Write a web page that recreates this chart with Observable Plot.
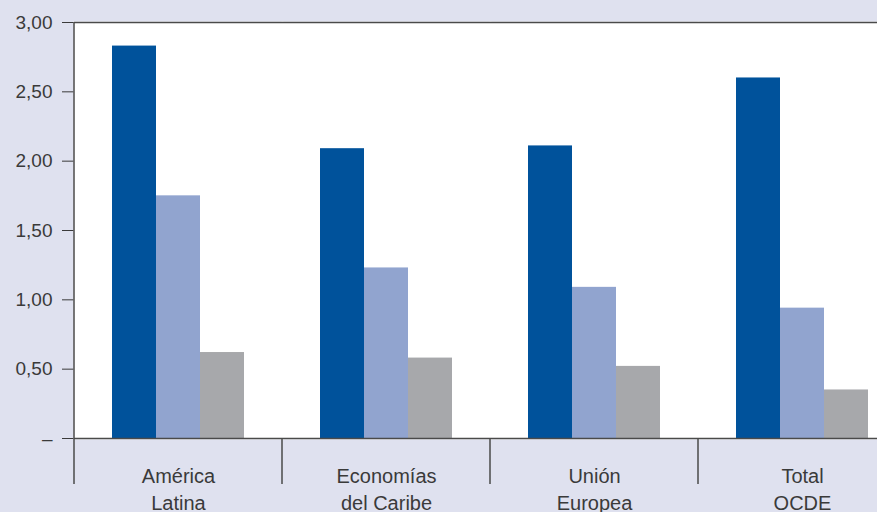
<!DOCTYPE html>
<html>
<head>
<meta charset="utf-8">
<script src="https://cdn.jsdelivr.net/npm/d3@7"></script>
<script src="https://cdn.jsdelivr.net/npm/@observablehq/plot@0.6"></script>
<style>
  html, body { margin: 0; padding: 0; background: #dfe1ef; overflow: hidden; }
</style>
</head>
<body>
<div id="chart"></div>
<script>
const categories = ["América\nLatina", "Economías\ndel Caribe", "Unión\nEuropea", "Total\nOCDE"];
const seriesNames = ["Serie 1", "Serie 2", "Serie 3"];
const seriesColors = ["#00529b", "#91a4cf", "#a7a8ab"];
const values1 = [2.83, 2.09, 2.11, 2.60];
const values2 = [1.75, 1.23, 1.09, 0.94];
const values3 = [0.62, 0.58, 0.52, 0.35];
const yTicks = [0, 0.5, 1, 1.5, 2, 2.5, 3];

const allValues = [values1, values2, values3];
const data = [];
categories.forEach((c, i) => {
  seriesNames.forEach((s, j) => data.push({cat: c, series: s, value: allValues[j][i]}));
});

const plot = Plot.plot({
  width: 906,
  height: 512,
  marginLeft: 74,
  marginRight: 0,
  marginTop: 22,
  marginBottom: 74,
  style: {background: "#dfe1ef", maxWidth: "none", overflow: "visible", fontFamily: "Liberation Sans, Arial, sans-serif", fontSize: "19px", color: "#3a3a3a"},
  fx: {domain: categories, padding: 0, axis: null},
  x: {domain: seriesNames, paddingInner: 0, paddingOuter: 0.84, axis: null},
  y: {domain: [0, 3], ticks: yTicks, tickFormat: d => d === 0 ? "–" : d.toFixed(2).replace(".", ","), tickSize: 12, tickPadding: 10, label: null},
  color: {domain: seriesNames, range: seriesColors},
  marks: [
    Plot.frame({fill: "white", stroke: "white", strokeWidth: 2}),
    Plot.barY(data, {fx: "cat", x: "series", y: "value", fill: "series", inset: 0}),
    Plot.ruleY([3], {stroke: "#4a4a4a", strokeWidth: 1.5}),
    Plot.ruleY([0], {stroke: "#4a4a4a", strokeWidth: 1.5}),
    Plot.axisFx({anchor: "bottom", tickSize: 0, tickPadding: 25, lineHeight: 1.35, fontSize: 20, label: null, fill: "#3a3a3a"})
  ]
});

document.getElementById("chart").appendChild(plot);

// vertical separators at band boundaries below the axis, and the left axis line
const fx = plot.scale("fx");
const y = plot.scale("y");
const svg = d3.select(plot.tagName === "svg" ? plot : plot.querySelector("svg"));
const y0 = y.apply(0);
const yTop = y.apply(3);
categories.forEach((c, i) => {
  const xb = fx.apply(c);
  svg.append("line")
    .attr("x1", xb).attr("x2", xb)
    .attr("y1", i === 0 ? yTop : y0)
    .attr("y2", y0 + 46)
    .attr("stroke", "#4a4a4a")
    .attr("stroke-width", 1.5);
});
</script>
</body>
</html>
